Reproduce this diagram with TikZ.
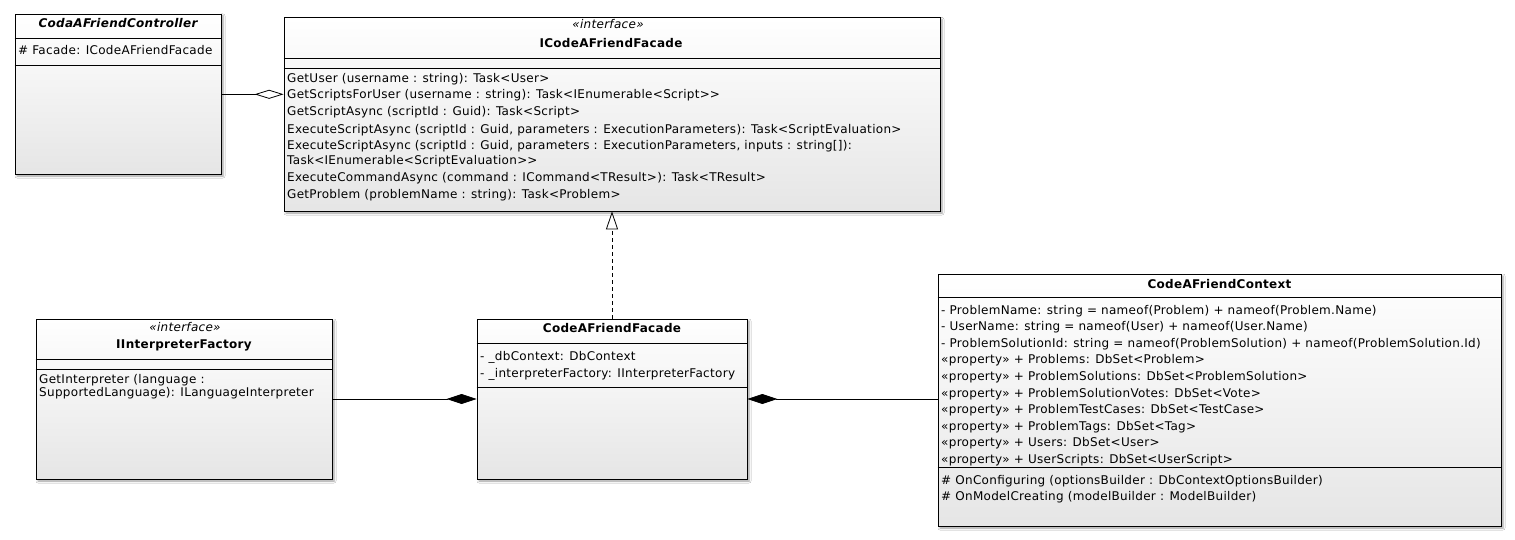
\documentclass[tikz,border=0pt]{standalone}
\usepackage{fontspec}
\setmainfont{DejaVu Sans}[LetterSpace=2.5]
\usetikzlibrary{arrows.meta,shadows.blur}
\newcommand\dgt{>\kern0pt>}
\tikzset{
 cls/.style={draw=black, line width=0.8pt, rectangle, inner sep=0pt,
   top color=white, bottom color=black!10,
   blur shadow={shadow xshift=2pt, shadow yshift=-2pt, shadow blur radius=2pt, shadow opacity=40}},
 sepline/.style={draw=black, line width=0.8pt},
 txt/.style={anchor=base west, inner sep=0pt, font=\fontsize{12}{13}\selectfont},
 ttl/.style={anchor=base, inner sep=0pt, font=\fontsize{12}{13}\selectfont\bfseries},
 ster/.style={anchor=base, inner sep=0pt, font=\fontsize{12}{13}\selectfont\itshape},
 agg/.style={line width=0.8pt, -{Diamond[open, length=29pt, width=9pt, line width=0.8pt]}},
 comp/.style={line width=0.8pt, -{Diamond[length=30pt, width=10pt]}},
 real/.style={line width=0.8pt, dash pattern=on 4pt off 3pt, -{Triangle[open, length=18pt, width=12pt, line width=0.8pt]}},
}
\begin{document}
\begin{tikzpicture}[x=1pt, y=-1pt]
\useasboundingbox (0,0) rectangle (1515,540);
\fill[white] (0,0) rectangle (1515,540);

% ---------- CodaAFriendController
\node[cls, minimum width=206pt, minimum height=160pt] (ctrl) at (118,94) {};
\draw[sepline] (ctrl.west |- 0,38) -- (ctrl.east |- 0,38);
\draw[sepline] (ctrl.west |- 0,65) -- (ctrl.east |- 0,65);
\node[ttl, font=\fontsize{12}{13}\selectfont\bfseries\itshape] (ctrlT) at (118,27.3) {CodaAFriendController};
\node[txt] (ctrlA1) at (18,55) {\# Facade: ICodeAFriendFacade};

% ---------- ICodeAFriendFacade
\node[cls, minimum width=656pt, minimum height=193.5pt] (iface) at (612,114.25) {};
\draw[sepline] (iface.west |- 0,58) -- (iface.east |- 0,58);
\draw[sepline] (iface.west |- 0,68.3) -- (iface.east |- 0,68.3);
\node[ster] (ifaceS) at (608,29) {«interface»};
\node[ttl] (ifaceT) at (611,47.3) {ICodeAFriendFacade};
\node[txt] (ifm1) at (287,82.4) {GetUser (username : string): Task<User>};
\node[txt] (ifm2) at (287,98.8) {GetScriptsForUser (username : string): Task<IEnumerable<Script\dgt};
\node[txt] (ifm3) at (287,116) {GetScriptAsync (scriptId : Guid): Task<Script>};
\node[txt] (ifm4) at (287,133.2) {ExecuteScriptAsync (scriptId : Guid, parameters : ExecutionParameters): Task<ScriptEvaluation>};
\node[txt] (ifm5) at (287,150) {ExecuteScriptAsync (scriptId : Guid, parameters : ExecutionParameters, inputs : string[]):};
\node[txt] (ifm5b) at (287,164.5) {Task<IEnumerable<ScriptEvaluation\dgt};
\node[txt] (ifm6) at (287,182) {ExecuteCommandAsync (command : ICommand<TResult>): Task<TResult>};
\node[txt] (ifm7) at (287,198.4) {GetProblem (problemName : string): Task<Problem>};

% ---------- IInterpreterFactory
\node[cls, minimum width=296pt, minimum height=160pt] (fact) at (184,399) {};
\draw[sepline] (fact.west |- 0,359) -- (fact.east |- 0,359);
\draw[sepline] (fact.west |- 0,369) -- (fact.east |- 0,369);
\node[ster] (factS) at (185,331) {«interface»};
\node[ttl] (factT) at (184,348.7) {IInterpreterFactory};
\node[txt] (factm1) at (39,383.4) {GetInterpreter (language :};
\node[txt] (factm1b) at (39,396.7) {SupportedLanguage): ILanguageInterpreter};

% ---------- CodeAFriendFacade
\node[cls, minimum width=270pt, minimum height=160pt] (facade) at (612,399) {};
\draw[sepline] (facade.west |- 0,343) -- (facade.east |- 0,343);
\draw[sepline] (facade.west |- 0,387) -- (facade.east |- 0,387);
\node[ttl] (facadeT) at (612,332.7) {CodeAFriendFacade};
\node[txt] (facA1) at (480,360) {- \_dbContext: DbContext};
\node[txt] (facA2) at (480,377.3) {- \_interpreterFactory: IInterpreterFactory};

% ---------- CodeAFriendContext
\node[cls, minimum width=563pt, minimum height=252pt] (ctx) at (1219.5,400) {};
\draw[sepline] (ctx.west |- 0,297.3) -- (ctx.east |- 0,297.3);
\draw[sepline] (ctx.west |- 0,467) -- (ctx.east |- 0,467);
\node[ttl] (ctxT) at (1219.5,288.3) {CodeAFriendContext};
\node[txt] (ctxA1) at (941,314) {- ProblemName: string = nameof(Problem) + nameof(Problem.Name)};
\node[txt] (ctxA2) at (941,330.6) {- UserName: string = nameof(User) + nameof(User.Name)};
\node[txt] (ctxA3) at (941,347.2) {- ProblemSolutionId: string = nameof(ProblemSolution) + nameof(ProblemSolution.Id)};
\node[txt] (ctxA4) at (941,363.8) {«property» + Problems: DbSet<Problem>};
\node[txt] (ctxA5) at (941,380.4) {«property» + ProblemSolutions: DbSet<ProblemSolution>};
\node[txt] (ctxA6) at (941,397) {«property» + ProblemSolutionVotes: DbSet<Vote>};
\node[txt] (ctxA7) at (941,413.6) {«property» + ProblemTestCases: DbSet<TestCase>};
\node[txt] (ctxA8) at (941,430.2) {«property» + ProblemTags: DbSet<Tag>};
\node[txt] (ctxA9) at (941,446.8) {«property» + Users: DbSet<User>};
\node[txt] (ctxA10) at (941,463.4) {«property» + UserScripts: DbSet<UserScript>};
\node[txt] (ctxO1) at (941,484) {\# OnConfiguring (optionsBuilder : DbContextOptionsBuilder)};
\node[txt] (ctxO2) at (941,500.5) {\# OnModelCreating (modelBuilder : ModelBuilder)};

% ---------- connectors
\draw[agg] (ctrl.east |- 0,94.3) -- (iface.west |- 0,94.3);
\draw[real] (facade.north) -- (iface.south);
\draw[comp] (fact.east |- 0,399) -- (facade.west |- 0,399);
\draw[comp] (ctx.west |- 0,399) -- (facade.east |- 0,399);
\end{tikzpicture}
\end{document}
